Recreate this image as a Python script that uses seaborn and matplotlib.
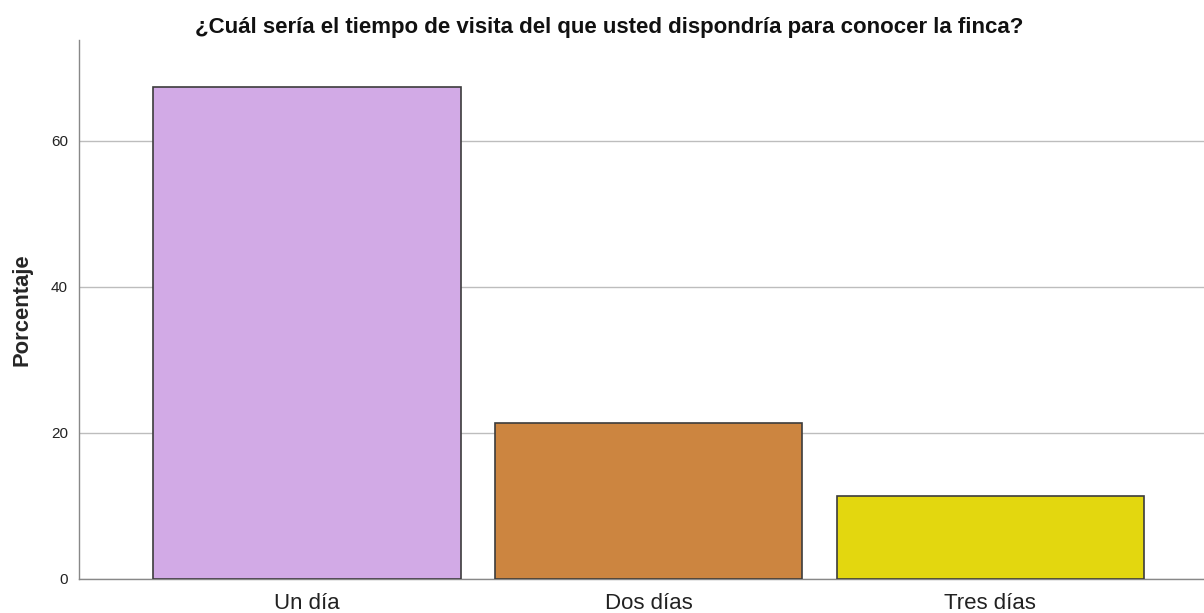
import matplotlib
matplotlib.use('Agg')
import matplotlib.pyplot as plt
import seaborn as sns
import pandas as pd

# Data
categories = ['Un día', 'Dos días', 'Tres días']
percentages = [67.4, 21.3, 11.3]
bar_colors = ['#D2AAE6', '#CC8540', '#E3D70F']

df = pd.DataFrame({'Tiempo': categories, 'Porcentaje': percentages})

sns.set_style('white')
plt.rcParams['font.family'] = ['Liberation Sans', 'DejaVu Sans']

fig = plt.figure(figsize=(12.04, 6.13), dpi=100)
ax = fig.add_axes([79 / 1204, 1 - 579 / 613, 1 - 79 / 1204, (579 - 40) / 613])

sns.barplot(data=df, x='Tiempo', y='Porcentaje', hue='Tiempo', palette=bar_colors,
            saturation=1, width=0.9, edgecolor='#3c3c3c', linewidth=1.2,
            legend=False, ax=ax, zorder=3)

ax.set_xlim(-0.667, 2.625)
ax.set_ylim(0, 73.8)
ax.set_yticks([0, 20, 40, 60])
ax.yaxis.grid(True, color='#bdbdbd', linewidth=1, zorder=0)
ax.set_axisbelow(True)

for s in ['top', 'right']:
    ax.spines[s].set_visible(False)
for s in ['left', 'bottom']:
    ax.spines[s].set_color('#888888')
    ax.spines[s].set_linewidth(1)

ax.tick_params(axis='x', labelsize=16, length=0, pad=10, colors='#222222')
ax.tick_params(axis='y', labelsize=11, length=0, pad=8, colors='#222222')
ax.set_xlabel('')
ax.set_ylabel('Porcentaje', fontsize=15.8, fontweight='bold', labelpad=13)
ax.set_title('¿Cuál sería el tiempo de visita del que usted dispondría para conocer la finca?',
             fontsize=16, fontweight='bold', pad=5, x=0.471, color='#111111')

fig.savefig('out.png', dpi=100)
